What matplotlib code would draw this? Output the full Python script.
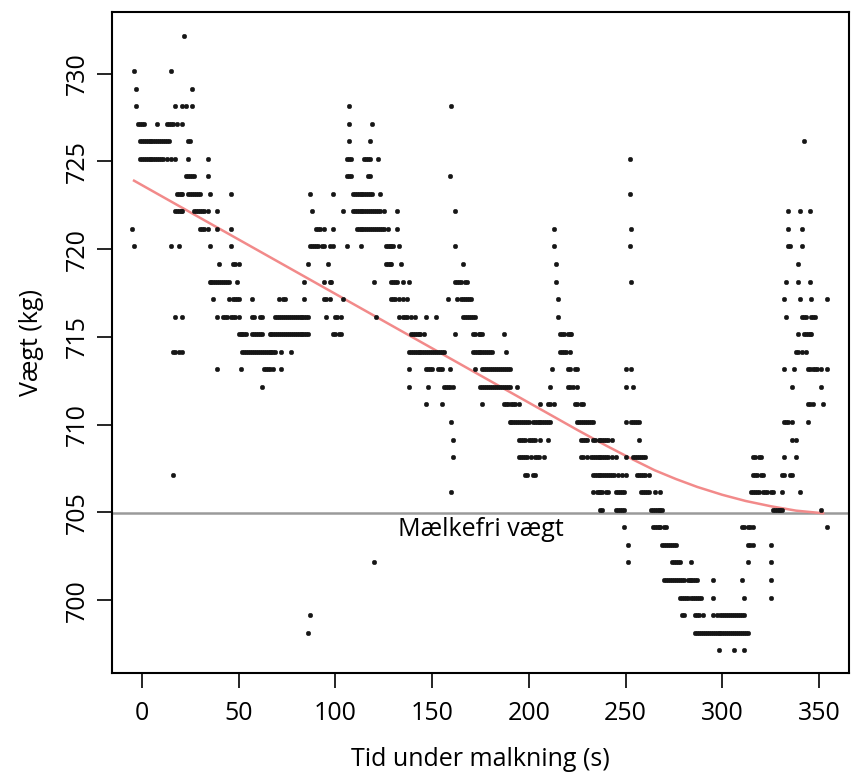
import matplotlib
matplotlib.use("Agg")
import matplotlib.pyplot as plt
import numpy as np

plt.rcParams['font.family'] = ['Open Sans', 'DejaVu Sans']

# weight readings, grouped by the (quantised) weight level they sit on
weight_levels = [732.15, 730.15, 729.15, 728.15, 727.15, 726.15, 725.15, 724.15,
                 723.15, 722.15, 721.15, 720.15, 719.15, 718.15, 717.15, 716.15,
                 715.15, 714.15, 713.15, 712.15, 711.15, 710.15, 709.15, 708.15,
                 707.15, 706.15, 705.15, 704.15, 703.15, 702.15, 701.15, 700.15,
                 699.15, 698.15, 697.15]

times_at_level = [
    [22],
    [-4, 15],
    [-3, 26],
    [-3, 17, 21, 23, 26, 107, 160],
    [-2, -1, 0, 1, 8, 13, 14, 15, 16, 18, 21, 107, 119],
    [-1, 0, 1, 2, 3, 4, 5, 6, 7, 8, 9, 10, 11, 12, 13, 14, 24, 25, 107, 118, 342],
    [-1, 0, 1, 2, 3, 4, 5, 6, 7, 8, 9, 10, 11, 13, 15, 17, 24, 34, 106, 107, 108,
     115, 116, 117, 118, 122, 252],
    [23, 24, 25, 26, 27, 34, 106, 107, 108, 117, 118, 159],
    [18, 19, 20, 21, 24, 25, 26, 27, 28, 29, 30, 35, 46, 87, 99, 109, 110, 111, 112,
     113, 114, 115, 116, 117, 118, 119, 123, 252],
    [17, 18, 19, 20, 21, 27, 28, 29, 30, 31, 32, 34, 39, 88, 104, 109, 110, 111, 112,
     113, 114, 115, 116, 117, 118, 119, 120, 121, 122, 123, 125, 132, 162, 334, 340, 345],
    [-5, 30, 31, 32, 34, 39, 46, 90, 91, 92, 94, 99, 111, 112, 113, 114, 115, 116, 117,
     118, 119, 120, 121, 122, 123, 124, 125, 127, 132, 213, 253, 334, 341],
    [-4, 15, 19, 35, 46, 87, 88, 89, 90, 91, 93, 94, 97, 99, 106, 113, 126, 127, 128,
     129, 130, 133, 162, 213, 252, 334, 335, 341],
    [40, 47, 48, 50, 86, 96, 126, 127, 128, 129, 134, 166, 214, 339],
    [35, 36, 37, 38, 39, 40, 41, 42, 43, 44, 45, 49, 84, 94, 97, 98, 120, 129, 130, 131,
     132, 135, 138, 162, 163, 164, 165, 167, 168, 214, 253, 333, 339, 345],
    [37, 45, 47, 48, 49, 50, 57, 71, 73, 74, 84, 94, 95, 97, 104, 129, 130, 131, 133,
     135, 137, 158, 163, 165, 166, 167, 168, 169, 170, 215, 332, 340, 346, 354],
    [17, 21, 39, 42, 43, 44, 46, 47, 48, 50, 57, 58, 61, 62, 69, 70, 71, 72, 73, 74, 75,
     76, 77, 78, 79, 80, 81, 82, 83, 84, 85, 86, 95, 100, 101, 103, 121, 133, 135, 136,
     137, 139, 141, 147, 152, 166, 167, 168, 169, 170, 171, 172, 215, 333, 341, 342,
     343, 346, 347, 348],
    [50, 51, 52, 53, 54, 57, 58, 59, 60, 61, 62, 66, 67, 68, 69, 70, 71, 72, 73, 74, 75,
     76, 77, 78, 79, 80, 81, 82, 83, 84, 85, 86, 99, 100, 102, 103, 139, 140, 141, 142,
     143, 144, 146, 162, 171, 172, 174, 175, 176, 187, 216, 217, 218, 220, 221, 222,
     339, 342, 343, 344, 345, 346],
    [16, 17, 19, 21, 52, 53, 54, 55, 56, 57, 58, 59, 60, 61, 62, 63, 64, 65, 66, 67, 68,
     69, 72, 77, 138, 139, 140, 141, 142, 143, 144, 145, 146, 147, 148, 149, 150, 151,
     152, 153, 154, 155, 156, 171, 172, 173, 174, 175, 176, 177, 178, 179, 180, 181,
     188, 216, 217, 218, 219, 221, 338, 339, 341, 343],
    [39, 51, 63, 64, 65, 66, 68, 72, 138, 147, 148, 149, 150, 153, 154, 155, 159, 172,
     176, 177, 178, 179, 180, 181, 182, 183, 184, 185, 186, 187, 188, 189, 190, 212,
     220, 221, 224, 225, 250, 253, 332, 337, 344, 345, 347, 348, 349, 351, 354],
    [62, 138, 148, 156, 157, 158, 159, 161, 175, 176, 177, 178, 179, 180, 181, 182, 183,
     184, 185, 186, 187, 188, 189, 190, 194, 211, 220, 221, 223, 225, 250, 254, 336, 351],
    [147, 155, 176, 187, 188, 189, 191, 192, 193, 195, 206, 210, 211, 213, 224, 225,
     227, 228, 344, 345, 347, 352],
    [160, 190, 191, 192, 193, 194, 195, 196, 197, 198, 199, 200, 202, 203, 204, 205,
     206, 207, 208, 209, 210, 211, 225, 226, 227, 228, 229, 230, 231, 232, 233, 250,
     253, 254, 255, 256, 257, 332, 333, 334, 336, 344],
    [161, 195, 196, 197, 198, 200, 201, 202, 203, 206, 210, 227, 228, 229, 230, 233,
     234, 236, 237, 238, 239, 240, 241, 243, 257, 336, 338],
    [161, 195, 196, 197, 198, 199, 201, 203, 204, 205, 208, 227, 228, 230, 232, 233,
     234, 235, 236, 237, 238, 239, 240, 241, 243, 245, 250, 254, 255, 256, 257, 258,
     259, 260, 316, 317, 319, 320, 332, 338],
    [16, 198, 199, 202, 203, 233, 234, 235, 236, 237, 238, 239, 240, 241, 242, 243,
     244, 246, 248, 250, 256, 257, 258, 259, 260, 262, 316, 317, 318, 320, 321, 331,
     332, 335, 336],
    [160, 233, 235, 236, 237, 238, 240, 241, 245, 246, 247, 248, 249, 258, 259, 260,
     261, 262, 265, 268, 315, 316, 317, 318, 319, 321, 322, 323, 325, 326, 331, 340],
    [237, 238, 245, 246, 247, 248, 249, 263, 264, 265, 266, 267, 268, 269, 326, 327,
     328, 329, 330, 331, 351],
    [249, 264, 265, 266, 267, 268, 270, 271, 310, 311, 313, 314, 316, 354],
    [251, 269, 270, 271, 272, 273, 274, 275, 276, 313, 314, 316, 325],
    [120, 251, 274, 275, 276, 277, 278, 284, 313, 325],
    [270, 271, 272, 273, 274, 275, 276, 277, 278, 279, 280, 282, 283, 284, 285, 286,
     287, 295, 310, 325],
    [278, 279, 280, 281, 282, 284, 285, 286, 287, 288, 289, 295, 311, 325],
    [87, 279, 280, 286, 287, 288, 290, 295, 297, 299, 300, 301, 302, 303, 304, 305,
     306, 307, 308, 309, 310, 311],
    [86, 286, 287, 288, 289, 290, 291, 292, 293, 294, 295, 296, 297, 298, 299, 300,
     301, 302, 303, 304, 305, 306, 307, 308, 309, 310, 311, 312, 313],
    [298, 306, 311],
]

# fitted curve
fit_time = [-4, 25, 50, 75, 100, 125, 150, 175, 200, 225, 240, 254, 265, 276, 287,
            300, 312, 325, 338, 352]
fit_weight = [723.9, 722.1, 720.55, 719.0, 717.45, 715.9, 714.35, 712.8, 711.25,
              709.7, 708.8, 708.0, 707.4, 706.9, 706.45, 706.0, 705.65, 705.35,
              705.1, 704.95]

milk_free_weight = 704.95
x_ticks = [0, 50, 100, 150, 200, 250, 300, 350]
y_ticks = [700, 705, 710, 715, 720, 725, 730]

t_all = []
w_all = []
for lev, ts in zip(weight_levels, times_at_level):
    t_all += ts
    w_all += [lev] * len(ts)
t_all = np.array(t_all, dtype=float)
w_all = np.array(w_all)

fig = plt.figure(figsize=(8.53, 7.73), dpi=100)
ax = fig.add_axes([0.1313, 0.1294, 0.864, 0.8555])

ax.axhline(milk_free_weight, color='#9a9a9a', lw=1.8, zorder=1)
ax.plot(fit_time, fit_weight, color='#f28a8a', lw=1.8, zorder=2)
ax.plot(t_all, w_all, 'o', ms=3.3, mfc='#161616', mec='#161616', mew=0.3, zorder=3)
ax.text(175, 704.0, 'Mælkefri vægt', fontsize=18, ha='center', va='center')

ax.set_xlim(-15.4, 365.4)
ax.set_ylim(695.85, 733.53)
ax.set_xticks(x_ticks)
ax.set_yticks(y_ticks)
ax.tick_params(axis='x', direction='out', length=11, width=1.2, labelsize=18, pad=9)
ax.tick_params(axis='y', direction='out', length=11, width=1.2, labelsize=18, pad=5)
for lab in ax.get_yticklabels():
    lab.set_rotation(90)
    lab.set_va('center')
for s in ax.spines.values():
    s.set_linewidth(1.5)

ax.set_xlabel('Tid under malkning (s)', fontsize=18)
ax.set_ylabel('Vægt (kg)', fontsize=18)
ax.xaxis.set_label_coords(0.5, -0.112)
ax.yaxis.set_label_coords(-0.092, 0.5)

fig.savefig('out.png', dpi=100)
